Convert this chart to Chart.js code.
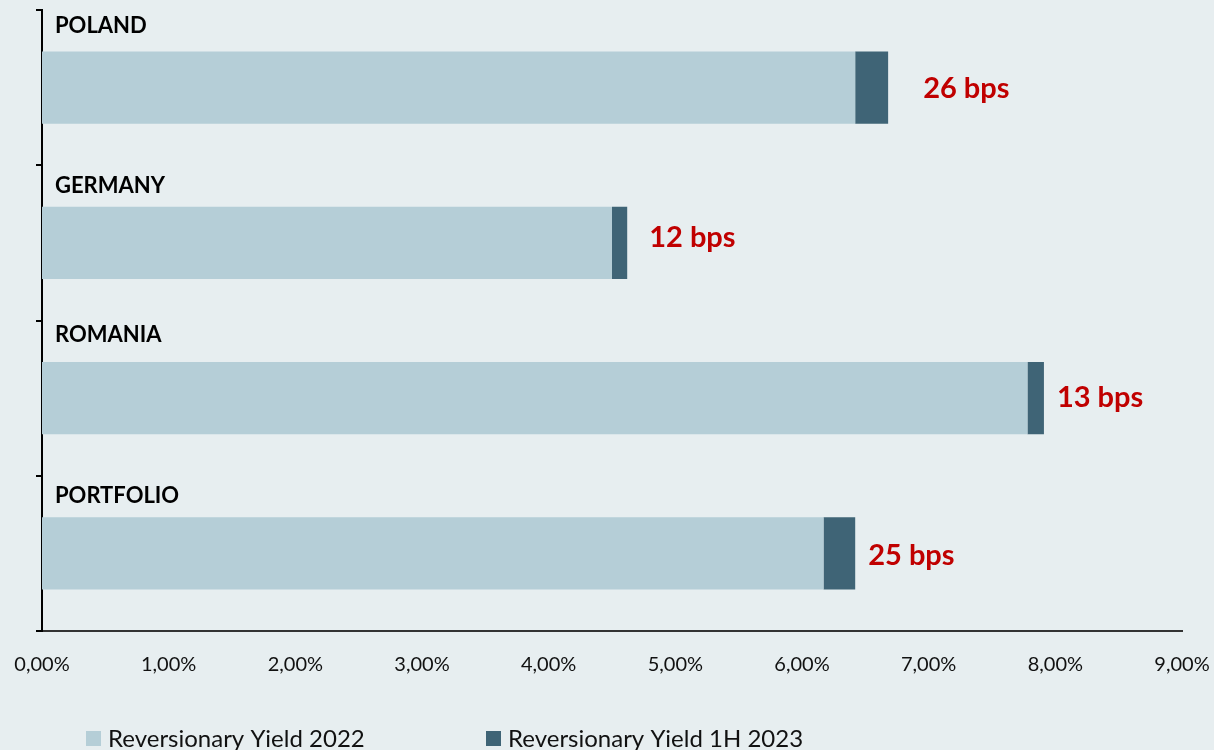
<!DOCTYPE html>
<html>
<head>
<meta charset="utf-8">
<script src="https://cdn.jsdelivr.net/npm/chart.js@4/dist/chart.umd.min.js"></script>
<style>
  html, body { margin: 0; padding: 0; background: #E7EEF0; overflow: hidden; }
  #wrap { width: 1214px; height: 750px; }
</style>
</head>
<body>
<div id="wrap"><canvas id="chart" width="1214" height="750"></canvas></div>
<script>
// Markets and reversionary yields (%)
const categories = ['POLAND', 'GERMANY', 'ROMANIA', 'PORTFOLIO'];
const yield2022 = [6.42, 4.50, 7.78, 6.17];
// Increase in 1H 2023 over 2022, in basis points
const changeBps = [26, 12, 13, 25];
const xTickLabels = ['0,00%', '1,00%', '2,00%', '3,00%', '4,00%', '5,00%', '6,00%', '7,00%', '8,00%', '9,00%'];
const seriesNames = ['Reversionary Yield 2022', 'Reversionary Yield 1H 2023'];

// Styling
const BG = '#E7EEF0';
const LIGHT = '#B5CED7';
const DARK = '#3F6476';
const RED = '#C00000';
const FONT = 'Lato, "Open Sans", sans-serif';
const nameBaseline = [23, 28, 21, 27];
const bpsLabelShift = [[35, 0], [22, -6], [13, -2], [13, 1]];
const legendX = [86, 486];

const changePct = changeBps.map(v => v / 100);

const background = {
  id: 'background',
  beforeDraw(chart) {
    const ctx = chart.ctx;
    ctx.save();
    ctx.fillStyle = BG;
    ctx.fillRect(0, 0, chart.width, chart.height);
    ctx.restore();
  }
};

const annotations = {
  id: 'annotations',
  afterDraw(chart) {
    const ctx = chart.ctx;
    const xs = chart.scales.x, ys = chart.scales.y;
    const band = ys.getPixelForValue(1) - ys.getPixelForValue(0);
    ctx.save();
    // market names above each bar
    ctx.fillStyle = '#000';
    ctx.font = 'bold 22px ' + FONT;
    ctx.textAlign = 'left';
    ctx.textBaseline = 'alphabetic';
    categories.forEach((c, i) => {
      const yc = ys.getPixelForValue(i);
      ctx.fillText(c, xs.left + 13, yc - band / 2 + nameBaseline[i]);
    });
    // change labels right of each bar
    ctx.fillStyle = RED;
    ctx.font = 'bold 29px ' + FONT;
    changeBps.forEach((b, i) => {
      const end = xs.getPixelForValue(yield2022[i] + changePct[i]);
      const yc = ys.getPixelForValue(i);
      ctx.fillText(b + ' bps', end + bpsLabelShift[i][0], yc + 10.5 + bpsLabelShift[i][1]);
    });
    // legend
    ctx.font = '24px ' + FONT;
    [LIGHT, DARK].forEach((col, i) => {
      ctx.fillStyle = col;
      ctx.fillRect(legendX[i], 731, 15, 15);
      ctx.fillStyle = '#111';
      ctx.fillText(seriesNames[i], legendX[i] + 22, 747);
    });
    ctx.restore();
  }
};

new Chart(document.getElementById('chart'), {
  type: 'bar',
  data: {
    labels: categories,
    datasets: [
      { label: seriesNames[0], data: yield2022, backgroundColor: LIGHT, borderWidth: 0 },
      { label: seriesNames[1], data: changePct, backgroundColor: DARK, borderWidth: 0 }
    ]
  },
  options: {
    indexAxis: 'y',
    responsive: false,
    animation: false,
    devicePixelRatio: 1,
    categoryPercentage: 1,
    barPercentage: 0.466,
    layout: { padding: { left: 0, right: 32, top: 10, bottom: 0 } },
    plugins: { legend: { display: false }, tooltip: { enabled: false } },
    scales: {
      x: {
        stacked: true,
        min: 0, max: 9,
        afterFit(s) { s.height = 119; s.paddingLeft = 0; s.paddingRight = 0; },
        grid: { display: false, drawTicks: false },
        border: { display: true, color: '#333', width: 2 },
        ticks: {
          stepSize: 1,
          padding: 22,
          color: '#111',
          font: { family: FONT, size: 20 },
          callback: (v, i) => xTickLabels[i]
        }
      },
      y: {
        stacked: true,
        afterFit(s) { s.width = 42; },
        grid: { display: true, drawOnChartArea: false, drawTicks: true, tickLength: 6, color: '#000', lineWidth: 2, offset: true },
        border: { display: true, color: '#000', width: 2 },
        ticks: { display: false }
      }
    }
  },
  plugins: [background, annotations]
});
</script>
</body>
</html>
